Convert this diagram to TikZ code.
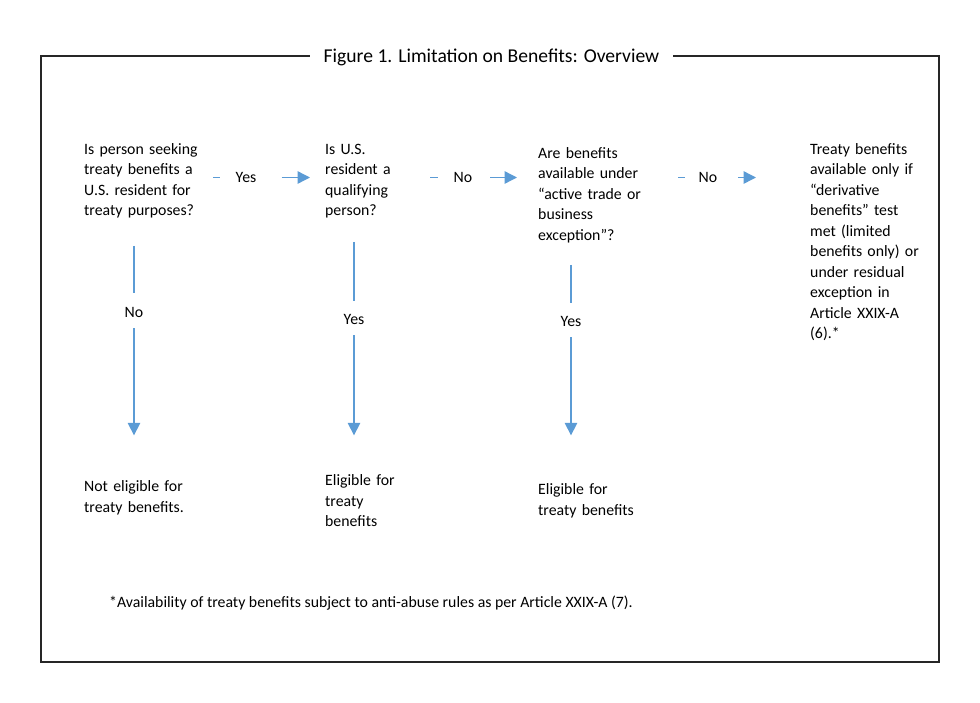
\documentclass[tikz,border=0pt]{standalone}
\usepackage{fontspec}
\setmainfont{Carlito}
\usetikzlibrary{arrows.meta,positioning}
\definecolor{flowblue}{HTML}{5B9BD5}
\definecolor{framegray}{HTML}{262626}

\begin{document}
\begin{tikzpicture}[
  x=1pt,
  y=-1pt,
  font=\fontsize{15.8}{20.5}\selectfont,
  >=Triangle,
  frame/.style={draw=framegray, line width=1.5pt},
  question/.style={anchor=base west, inner sep=0pt, text width=129pt, align=left},
  answer/.style={inner sep=0pt},
  link/.style={draw=flowblue, line width=1.4pt},
  flow/.style={link, -{Triangle[length=12.5pt, width=12.5pt]}}
]
\useasboundingbox (0,0) rectangle (980,702);

\draw[frame] (41,56) rectangle (939,662);
\node[fill=white, inner xsep=14pt, font=\fontsize{19.6}{24}\selectfont] (title) at (491.5,57) {Figure 1. Limitation on Benefits: Overview};

\node[question] (resident) at (84,154) {Is person seeking\\treaty benefits a\\U.S. resident for\\treaty purposes?};
\node[question, text width=105pt] (qualifying) at (325,154) {Is U.S.\\resident a\\qualifying\\person?};
\node[question, text width=140pt] (activetrade) at (538,158) {Are benefits\\available under\\“active trade or\\business\\exception”?};
\node[question, text width=120pt] (derivative) at (810,154) {Treaty benefits\\available only if\\“derivative\\benefits” test\\met (limited\\benefits only) or\\under residual\\exception in\\Article XXIX-A\\(6).*};

\node[answer] (yes1) at (246,177.5) {Yes};
\node[answer] (no2) at (463,177.5) {No};
\node[answer] (no3) at (708,177.5) {No};
\node[answer] (no1) at (134,312) {No};
\node[answer] (yes2) at (354,319) {Yes};
\node[answer] (yes3) at (571,321) {Yes};

\node[question] (noteligible) at (84,491.5) {Not eligible for\\treaty benefits.};
\node[question] (eligible) at (325,485.5) {Eligible for\\treaty\\benefits};
\node[question] (eligibletoo) at (538,494.5) {Eligible for\\treaty benefits};
\node[anchor=base west, inner sep=0pt] (footnote) at (109,607.5) {*Availability of treaty benefits subject to anti-abuse rules as per Article XXIX-A (7).};

% across
\draw[link, shorten >=15pt] (resident.east |- yes1) -- (yes1.west);
\draw[flow, shorten <=25pt, shorten >=15pt] (yes1.east) -- (qualifying.west |- yes1);
\draw[link, shorten >=15.7pt] (qualifying.east |- no2) -- (no2.west);
\draw[flow, shorten <=17.7pt, shorten >=21pt] (no2.east) -- (activetrade.west |- no2);
\draw[link, shorten >=13.7pt] (activetrade.east |- no3) -- (no3.west);
\draw[flow, shorten <=20.7pt, shorten >=54pt] (no3.east) -- (derivative.west |- no3);

% down
\draw[link, shorten <=27.6pt, shorten >=13.9pt] (no1 |- resident.south) -- (no1.north);
\draw[flow, shorten <=10.9pt, shorten >=45pt] (no1.south) -- (no1 |- noteligible.north);
\draw[link, shorten <=23.6pt, shorten >=12.9pt] (yes2 |- qualifying.south) -- (yes2.north);
\draw[flow, shorten <=10.9pt, shorten >=39pt] (yes2.south) -- (yes2 |- eligible.north);
\draw[link, shorten <=22pt, shorten >=12.9pt] (yes3 |- activetrade.south) -- (yes3.north);
\draw[flow, shorten <=10.9pt, shorten >=48pt] (yes3.south) -- (yes3 |- eligibletoo.north);

\end{tikzpicture}
\end{document}
